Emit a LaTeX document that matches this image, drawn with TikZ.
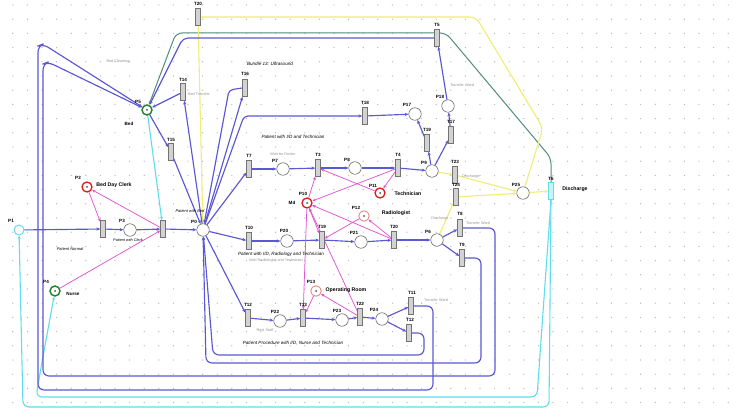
\documentclass[tikz,border=0pt]{standalone}
\usepackage{fontspec}
\setmainfont{Liberation Sans}
\usetikzlibrary{arrows.meta}
\definecolor{arcblue}{RGB}{92,88,212}
\definecolor{arcpink}{RGB}{225,85,210}
\definecolor{arccyan}{RGB}{95,222,232}
\definecolor{arcteal}{RGB}{80,140,125}
\definecolor{arcyellow}{RGB}{240,238,115}
\definecolor{placered}{RGB}{215,30,30}
\definecolor{placelred}{RGB}{235,135,135}
\definecolor{placegreen}{RGB}{30,130,45}
\definecolor{gridgray}{RGB}{185,185,198}
\definecolor{transgray}{RGB}{210,210,210}
\definecolor{textgray}{RGB}{150,150,150}
\pgfdeclarelayer{bg}
\pgfdeclarelayer{arcs}
\pgfsetlayers{bg,arcs,main}
\tikzset{
  place/.style={circle, draw=black!65, fill=white, minimum size=12.5pt, inner sep=0pt, line width=0.5pt},
  redplace/.style={place, draw=placered, line width=1.3pt, minimum size=10pt},
  lredplace/.style={place, draw=placelred, line width=0.9pt, minimum size=10.5pt},
  greenplace/.style={place, draw=placegreen, line width=1.4pt, minimum size=10pt},
  cyanplace/.style={place, draw=arccyan, line width=1pt, minimum size=10pt},
  trans/.style={rectangle, draw=black!55, fill=transgray, minimum width=5pt, minimum height=17pt, inner sep=0pt, line width=0.4pt},
  lbl/.style={font=\fontsize{4.6}{5}\selectfont\bfseries, inner sep=0pt},
  bnote/.style={font=\fontsize{5.2}{6}\selectfont\bfseries, inner sep=0pt},
  note/.style={font=\fontsize{4.6}{5}\selectfont\itshape, inner sep=0pt},
  gnote/.style={font=\fontsize{3.8}{4.5}\selectfont, text=textgray, inner sep=0pt},
  barc/.style={draw=arcblue, line width=1.15pt, -{Stealth[length=3.8pt,width=3.2pt]}},
  parc/.style={draw=arcpink, line width=0.75pt, -{Stealth[length=3.5pt,width=3pt]}},
  carc/.style={draw=arccyan, line width=1.1pt, -{Stealth[length=3.5pt,width=3pt]}},
  tarc/.style={draw=arcteal, line width=1pt, -{Stealth[length=3.5pt,width=3pt]}},
  yarc/.style={draw=arcyellow, line width=1.1pt, -{Stealth[length=3.5pt,width=3pt]}},
}
\begin{document}
\begin{tikzpicture}[x=1pt,y=-1pt]
\useasboundingbox (0,0) rectangle (734,414);
\begin{pgfonlayer}{bg}
  \fill[white] (0,0) rectangle (734,414);
  \foreach \i in {0,...,49} {
    \foreach \j in {0,...,28} {
      \fill[gridgray] (12.8+14.6*\i, 5+14.2*\j) circle (0.7pt);
    }
  }
\end{pgfonlayer}

% ---------- places ----------
\node[cyanplace] (P1) at (19,230) {};
\node[redplace] (P2) at (87,187) {};
\node[place] (P3) at (130,230) {};
\node[place] (P0) at (203,230) {};
\node[greenplace] (P4) at (55,291) {};
\node[greenplace] (P5) at (147,110) {};
\node[place] (P7) at (283,169) {};
\node[place] (P8) at (355,168) {};
\node[place] (P9) at (432,171) {};
\node[place] (P17) at (415,114) {};
\node[place] (P18) at (448,106) {};
\node[redplace] (P10) at (307,203) {};
\node[redplace] (P11) at (380,193) {};
\node[lredplace] (P12) at (364,216) {};
\node[place] (P20) at (287,241) {};
\node[place] (P21) at (361,242) {};
\node[place] (P6) at (437,240) {};
\node[lredplace] (P13) at (316,291) {};
\node[place] (P22) at (280,321) {};
\node[place] (P23) at (342,320) {};
\node[place] (P24) at (382,319) {};
\node[place] (P25) at (523,193) {};

\foreach \p in {P2,P4,P5,P10,P11,P12,P13} { \fill[black!70] (\p) circle (1pt); }

% ---------- transitions ----------
\node[trans] (T1) at (103,229) {};
\node[trans] (T2) at (163,229) {};
\node[trans] (T14) at (183,92) {};
\node[trans] (T15) at (171,152) {};
\node[trans] (T16) at (245,88) {};
\node[trans] (T20) at (198,17) {};
\node[trans] (T5) at (437,38) {};
\node[trans] (T18) at (365,116) {};
\node[trans] (T19) at (427,143) {};
\node[trans] (T17) at (451,135) {};
\node[trans] (T7) at (249,169) {};
\node[trans] (T3) at (318,168) {};
\node[trans] (T4) at (398,168) {};
\node[trans] (T23) at (455,175) {};
\node[trans] (T24) at (456,197) {};
\node[trans] (T8) at (460,228) {};
\node[trans] (T9) at (462,258) {};
\node[trans] (T10) at (249,241) {};
\node[trans] (T19b) at (322,240) {};
\node[trans] (T20b) at (394,240) {};
\node[trans] (T12) at (248,318) {};
\node[trans] (T13b) at (303,318) {};
\node[trans] (T22) at (360,317) {};
\node[trans] (T11) at (411,306) {};
\node[trans] (T12b) at (409,333) {};
\node[trans, draw=arccyan, fill=arccyan!35] (T6) at (551,191) {};

% ---------- labels ----------
\node[lbl] (lP1) at (11,221) {P1};
\node[lbl] (lP2) at (78,178) {P2};
\node[bnote] (tP2) at (114,185) {Bed Day Clerk};
\node[lbl] (lP3) at (122,221) {P3};
\node[note, font=\fontsize{3.8}{4.5}\selectfont\itshape] (tP3) at (128,240) {Patient with Clerk};
\node[note, font=\fontsize{4}{4.5}\selectfont\itshape] (tPN) at (70,249) {Patient Normal};
\node[lbl] (lP0) at (194,222) {P0};
\node[note, font=\fontsize{4}{4.5}\selectfont\itshape] (tP0) at (190,211) {Patient with Bed};
\node[lbl] (lP4) at (46,282) {P4};
\node[lbl] (tP4) at (73,294) {Nurse};
\node[lbl] (lP5) at (138,102) {P5};
\node[lbl] (tP5) at (129,124) {Bed};
\node[gnote] (tBC) at (118,62) {Bed Cleaning};
\node[lbl] (lT14) at (183,80) {T14};
\node[gnote] (tT14) at (199,94) {Bed Transfer};
\node[lbl] (lT15) at (171,140) {T15};
\node[lbl] (lT16) at (245,74) {T16};
\node[note] (tUS) at (270,64) {Bundle 13: Ultrasound};
\node[lbl] (lT20) at (198,4) {T20};
\node[lbl] (lT5) at (437,25) {T5};
\node[gnote] (tT5) at (462,85) {Transfer Ward};
\node[lbl] (lP18) at (440,97) {P18};
\node[lbl] (lT17) at (451,122) {T17};
\node[lbl] (lP17) at (407,105) {P17};
\node[lbl] (lT19) at (427,130) {T19};
\node[lbl] (lT18) at (365,103) {T18};
\node[lbl] (lP9) at (424,163) {P9};
\node[lbl] (lT23) at (455,162) {T23};
\node[gnote] (tT23) at (471,177) {Discharge};
\node[lbl] (lT24) at (456,185) {T24};
\node[gnote] (tT24) at (440,219) {Discharge};
\node[lbl] (lP25) at (516,185) {P25};
\node[lbl] (lT6) at (551,179) {T6};
\node[bnote] (tT6) at (575,189) {Discharge};
\node[lbl] (lT8) at (460,214) {T8};
\node[gnote] (tT8) at (478,223) {Transfer Ward};
\node[lbl] (lP6) at (428,232) {P6};
\node[lbl] (lT9) at (462,245) {T9};
\node[lbl] (lT7) at (249,156) {T7};
\node[gnote] (tT7) at (283,154) {Wait for Doctor};
\node[note] (tID) at (293,137) {Patient with I/D and Technician};
\node[lbl] (lP7) at (275,161) {P7};
\node[lbl] (lT3) at (318,155) {T3};
\node[lbl] (lP8) at (347,160) {P8};
\node[lbl] (lT4) at (398,155) {T4};
\node[lbl] (lP10) at (303,194) {P10};
\node[lbl] (tMd) at (292,203) {Md};
\node[lbl] (lP11) at (373,186) {P11};
\node[bnote] (tP11) at (408,194) {Technician};
\node[lbl] (lP12) at (356,208) {P12};
\node[bnote] (tP12) at (396,213) {Radiologist};
\node[lbl] (lT10) at (249,228) {T10};
\node[lbl] (lP20) at (284,231) {P20};
\node[lbl] (lT19b) at (322,227) {T19};
\node[lbl] (lP21) at (354,233) {P21};
\node[lbl] (lT20b) at (394,227) {T20};
\node[note] (tRad) at (281,254) {Patient with I/D, Radiology and Technician};
\node[gnote] (tRad2) at (276,261) {Wait Radiologist and Technician};
\node[lbl] (lT12) at (248,305) {T12};
\node[gnote] (tRS) at (265,330) {Rest Staff};
\node[lbl] (lP22) at (275,312) {P22};
\node[lbl] (lT13b) at (303,305) {T13};
\node[lbl] (lP13) at (311,282) {P13};
\node[bnote] (tP13) at (346,290) {Operating Room};
\node[lbl] (lP23) at (337,311) {P23};
\node[lbl] (lT22) at (360,304) {T22};
\node[lbl] (lP24) at (374,310) {P24};
\node[lbl] (lT11) at (412,293) {T11};
\node[gnote] (tT11) at (436,300) {Transfer Ward};
\node[lbl] (lT12b) at (410,320) {T12};
\node[note] (tProc) at (293,343) {Patient Procedure with I/D, Nurse and Technician};

% ---------- arcs ----------
\begin{pgfonlayer}{arcs}
% cyan
\draw[carc] (P5) -- (T2);
\draw[carc, rounded corners=6pt] (T6.south) -- (549,407) -- (23,407) -- (P1);
\draw[carc, rounded corners=6pt] (T6.south) -- (537,397) -- (36,397) -- (42,362) -- (P4);
% teal
\draw[tarc, rounded corners=6pt] (T6.north) -- (551,158) -- (446,33) -- (176,33) -- (P5);
% yellow
\draw[yarc] (P9) -- (T23);
\draw[yarc] (T23) -- (P25);
\draw[yarc] (P6) -- (T24);
\draw[yarc] (T24) -- (P25);
\draw[yarc] (P25) -- (T6);
\draw[yarc, rounded corners=6pt] (P25) -- (543,128) -- (476,17) -- (T20.east);
\draw[yarc] (T20) -- (P0);
% blue main
\draw[barc] (P1) -- (T1);
\draw[barc] (T1) -- (P3);
\draw[barc] (P3) -- (T2);
\draw[barc] (T2) -- (P0);
\draw[barc] (P0) -- (T14);
\draw[barc] (T14) -- (P5);
\draw[barc] (P5) -- (T15);
\draw[barc] (T15) -- (P0);
\draw[barc] (P0) -- (T16);
\draw[barc, rounded corners=4pt] (T16.west) -- (229,90) -- (P0);
\draw[barc, rounded corners=4pt] (P0) -- (244,116) -- (T18);
\draw[barc] (T18) -- (P17);
\draw[barc] (P0) -- (T7);
\draw[barc] (T7) -- (P7);
\draw[barc] (P7) -- (T3);
\draw[barc] (T3) -- (P8);
\draw[barc] (P8) -- (T4);
\draw[barc] (T4) -- (P9);
\draw[barc] (P9) -- (T19);
\draw[barc] (T19) -- (P17);
\draw[barc] (P9) -- (T17);
\draw[barc] (T17) -- (P18);
\draw[barc] (P18) -- (T5);
\draw[barc, rounded corners=5pt] (T5.west) -- (183,38) -- (P5);
\draw[barc] (P0) -- (T10);
\draw[barc] (T10) -- (P20);
\draw[barc] (P20) -- (T19b);
\draw[barc] (T19b) -- (P21);
\draw[barc] (P21) -- (T20b);
\draw[barc] (T20b) -- (P6);
\draw[barc] (P6) -- (T8);
\draw[barc] (P6) -- (T9);
\draw[barc] (P0) -- (T12);
\draw[barc] (T12) -- (P22);
\draw[barc] (P22) -- (T13b);
\draw[barc] (T13b) -- (P23);
\draw[barc] (P23) -- (T22);
\draw[barc] (T22) -- (P24);
\draw[barc] (P24) -- (T11);
\draw[barc] (P24) -- (T12b);
% blue returns
\draw[barc, rounded corners=6pt] (T8.east) -- (495,228) -- (495,376) -- (43,376) -- (43,64) -- (48,62) -- (P5);
\draw[barc, rounded corners=6pt] (T11.east) -- (433,306) -- (433,390) -- (38,390) -- (38,46) -- (43,44) -- (P5);
\draw[barc, rounded corners=6pt] (T9.east) -- (481,258) -- (481,363) -- (206,363) -- (P0);
\draw[barc, rounded corners=6pt] (T12b.east) -- (424,333) -- (424,355) -- (213,355) -- (P0);
% pink
\draw[parc] (P2) -- (T1);
\draw[parc] (T2) -- (P2);
\draw[parc] (P4) -- (T2);
\draw[parc] (P10) -- (T3);
\draw[parc] (T4) -- (P10);
\draw[parc] (P11) -- (T3);
\draw[parc] (T4) -- (P11);
\draw[parc] (P10) -- (T19b);
\draw[parc] (T20b) -- (P10);
\draw[parc] (P12) -- (T19b);
\draw[parc] (T20b) -- (P12);
\draw[parc] (P10) -- (T13b);
\draw[parc] (T22) -- (P10);
\draw[parc] (P13) -- (T13b);
\draw[parc] (T22) -- (P13);
\end{pgfonlayer}
\end{tikzpicture}
\end{document}
